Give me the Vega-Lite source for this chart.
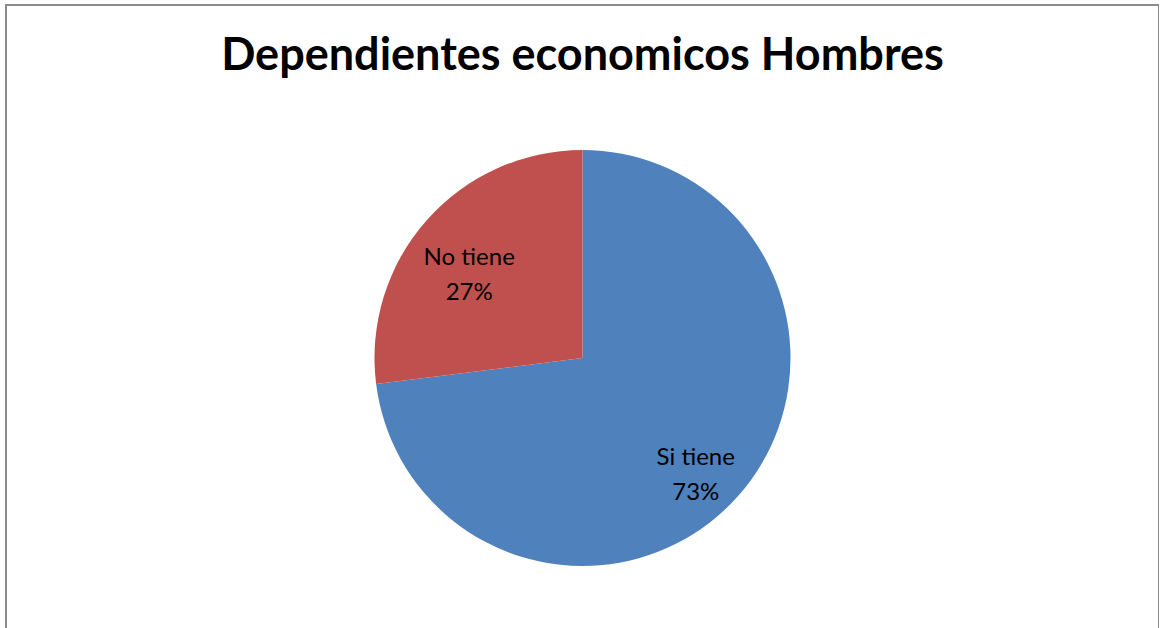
{
  "$schema": "https://vega.github.io/schema/vega-lite/v6.json",
  "autosize": "none",
  "width": 1153,
  "height": 706,
  "padding": {"left": 6, "top": 5, "right": 0, "bottom": 0},
  "background": "white",
  "view": {"stroke": "#8c8c8c", "strokeWidth": 2},
  "title": {
    "text": "Dependientes economicos Hombres",
    "font": "Lato",
    "fontSize": 45,
    "fontWeight": "bold",
    "color": "#000000",
    "anchor": "middle",
    "offset": -74
  },
  "data": {
    "values": [
      {"category": "Si tiene", "value": 73, "label": "Si tiene\n73%"},
      {"category": "No tiene", "value": 27, "label": "No tiene\n27%"}
    ]
  },
  "encoding": {
    "theta": {"field": "value", "type": "quantitative", "stack": true},
    "order": {"field": "category", "type": "nominal", "sort": "descending"},
    "color": {
      "field": "category",
      "type": "nominal",
      "scale": {"domain": ["Si tiene", "No tiene"], "range": ["#4F81BD", "#C0504D"]},
      "legend": null
    }
  },
  "layer": [
    {"mark": {"type": "arc", "outerRadius": 208}},
    {
      "mark": {"type": "text", "font": "Lato", "fontSize": 24, "lineBreak": "\n", "lineHeight": 35, "align": "center", "baseline": "middle", "radius": 151},
      "encoding": {
        "text": {"field": "label"},
        "color": {"value": "black"}
      }
    }
  ]
}
